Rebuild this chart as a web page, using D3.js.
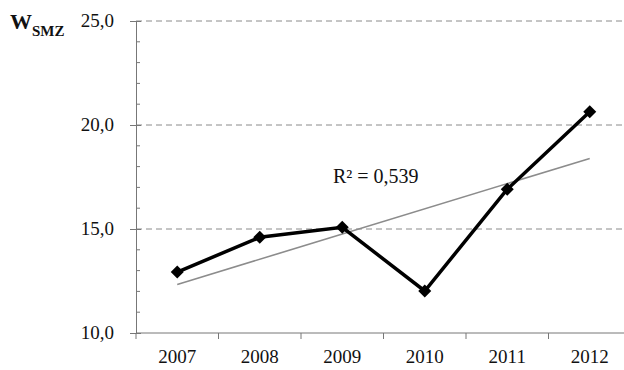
<!DOCTYPE html>
<html>
<head>
<meta charset="utf-8">
<script src="https://cdn.jsdelivr.net/npm/d3@7"></script>
<style>
  html, body { margin: 0; padding: 0; background: #fff; }
  svg { display: block; font-family: "Liberation Serif", "Times New Roman", serif; }
</style>
</head>
<body>
<svg id="chart" width="624" height="370"></svg>
<script>
// Yearly W_SMZ values
const years = ["2007", "2008", "2009", "2010", "2011", "2012"];
const values = [12.93, 14.6, 15.08, 12.02, 16.91, 20.64];
const yTicks = [10, 15, 20, 25];
const gridTicks = [15, 20, 25];
const r2Label = "R² = 0,539";

const serif = "Liberation Serif";
const svg = d3.select("#chart");
const plotLeft = 136, plotRight = 631, plotTop = 21, plotBottom = 333;

const x = d3.scaleBand().domain(years).range([plotLeft, plotRight]).padding(0);
const y = d3.scaleLinear().domain([10, 25]).range([plotBottom, plotTop]);
const fmt = v => d3.format(".1f")(v).replace(".", ",");
const cx = d => x(d) + x.bandwidth() / 2;

// Dashed horizontal gridlines
svg.append("g").selectAll("line").data(gridTicks).join("line")
  .attr("x1", plotLeft).attr("x2", plotRight)
  .attr("y1", d => y(d)).attr("y2", d => y(d))
  .attr("stroke", "#8a8a8a").attr("stroke-width", 1)
  .attr("stroke-dasharray", "6,4");

// Minor ticks on the y axis, one per unit
const minor = d3.range(10, 25.01, 1).filter(v => !yTicks.includes(v));
svg.append("g").selectAll("line").data(minor).join("line")
  .attr("x1", plotLeft).attr("x2", plotLeft + 4)
  .attr("y1", d => y(d)).attr("y2", d => y(d))
  .attr("stroke", "#777").attr("stroke-width", 1);

// Y axis
const yAxis = svg.append("g").attr("transform", `translate(${plotLeft},0)`)
  .call(d3.axisLeft(y).tickValues(yTicks).tickFormat(fmt).tickSize(6).tickPadding(16));
yAxis.select(".domain").attr("stroke", "#777");
yAxis.selectAll(".tick line").attr("stroke", "#777").attr("x2", -6).attr("x1", 5);
yAxis.selectAll("text").attr("font-size", 19).attr("fill", "#111")
  .attr("font-family", serif).attr("dy", "0.28em");

// X axis with ticks on the category boundaries
svg.append("line").attr("x1", plotLeft).attr("x2", plotRight)
  .attr("y1", plotBottom).attr("y2", plotBottom).attr("stroke", "#777");
const bounds = years.map(d => x(d)).concat([plotRight]);
svg.append("g").selectAll("line").data(bounds).join("line")
  .attr("x1", d => d).attr("x2", d => d)
  .attr("y1", plotBottom).attr("y2", plotBottom + 6)
  .attr("stroke", "#777");
svg.append("g").selectAll("text").data(years).join("text")
  .attr("x", d => cx(d)).attr("y", 363)
  .attr("text-anchor", "middle").attr("font-size", 19).attr("fill", "#111")
  .attr("font-family", serif)
  .text(d => d);

// Linear trend fitted to the series
const n = values.length;
const xs = d3.range(1, n + 1);
const mx = d3.mean(xs), my = d3.mean(values);
const slope = d3.sum(xs, (v, i) => (v - mx) * (values[i] - my)) / d3.sum(xs, v => (v - mx) ** 2);
const icpt = my - slope * mx;
svg.append("line")
  .attr("x1", cx(years[0])).attr("y1", y(icpt + slope * 1))
  .attr("x2", cx(years[n - 1])).attr("y2", y(icpt + slope * n))
  .attr("stroke", "#8c8c8c").attr("stroke-width", 1.6);

// Main series line
const line = d3.line().x((d, i) => cx(years[i])).y(d => y(d));
svg.append("path").datum(values)
  .attr("d", line).attr("fill", "none")
  .attr("stroke", "#000").attr("stroke-width", 3.5)
  .attr("stroke-linejoin", "miter");

// Diamond markers
svg.append("g").selectAll("path").data(values).join("path")
  .attr("transform", (d, i) => `translate(${cx(years[i])},${y(d)})`)
  .attr("d", "M0,-6.5L6.5,0L0,6.5L-6.5,0Z")
  .attr("fill", "#000");

// Trend annotation
svg.append("text").attr("x", 333).attr("y", 183)
  .attr("font-size", 20).attr("fill", "#111").attr("font-family", serif)
  .text(r2Label);

// Axis title W with subscript SMZ
const t = svg.append("text").attr("x", 10).attr("y", 29)
  .attr("font-weight", "bold").attr("fill", "#111").attr("font-family", serif);
t.append("tspan").attr("font-size", 22).text("W");
t.append("tspan").attr("font-size", 15).attr("dy", 7).text("SMZ");
</script>
</body>
</html>
